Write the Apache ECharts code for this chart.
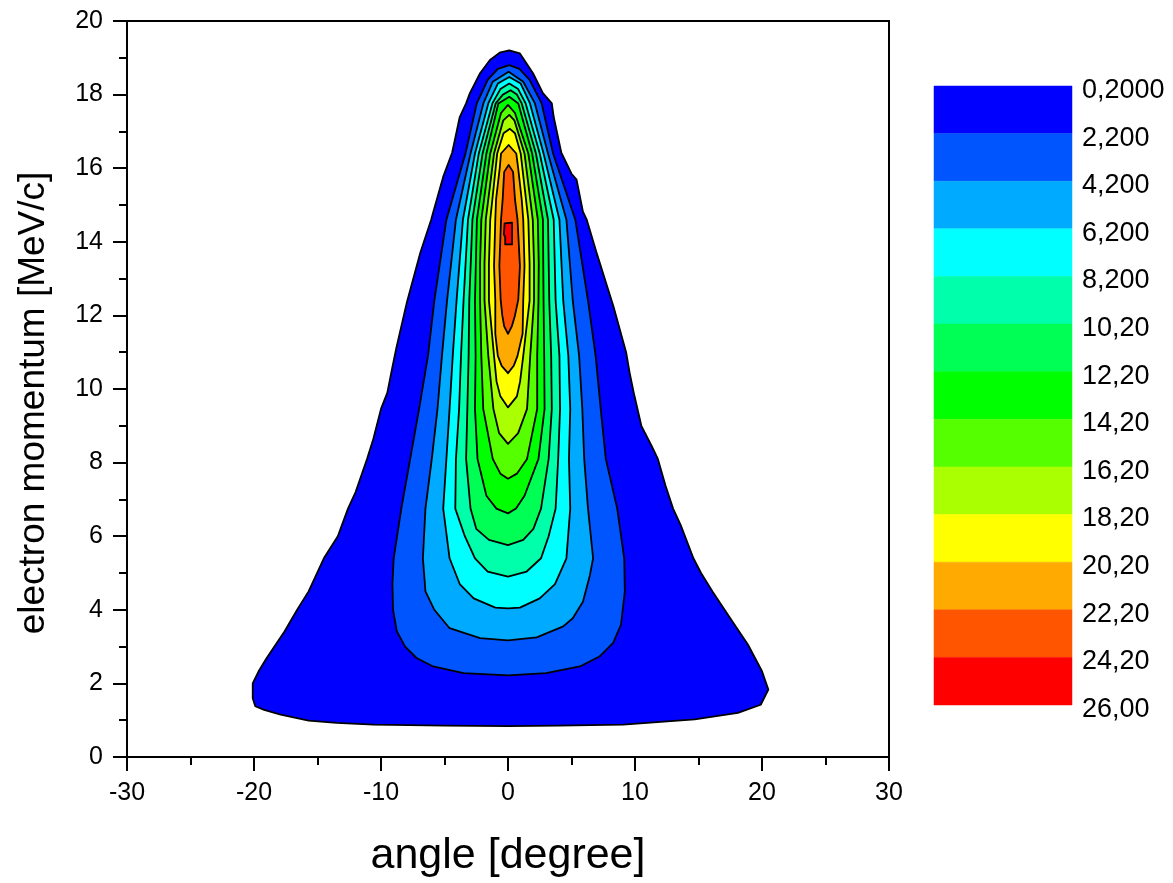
<!DOCTYPE html>
<html>
<head>
<meta charset="utf-8">
<script src="https://cdn.jsdelivr.net/npm/echarts@6/dist/echarts.min.js"></script>
<style>html,body{margin:0;padding:0;background:#fff}#c{width:1173px;height:883px}</style>
</head>
<body>
<div id="c"></div>
<script>
// contour levels (lower bound of each band)
const levels = [0.2, 2.2, 4.2, 6.2, 8.2, 10.2, 12.2, 14.2, 16.2, 18.2, 20.2, 22.2, 24.2];
// colour-scale tick labels
const levelLabels = ['0,2000','2,200','4,200','6,200','8,200','10,20','12,20','14,20','16,20','18,20','20,20','22,20','24,20','26,00'];
const bandColors = ['#0000FF','#0055FF','#00AAFF','#00FFFF','#00FFAA','#00FF55','#00FF00','#55FF00','#AAFF00','#FFFF00','#FFAA00','#FF5500','#FF0000'];
// axis ticks
const xTicks = {min: -30, max: 30, step: 10};
const yTicks = {min: 0, max: 20, step: 2};

// contour boundaries: [angle (deg), momentum (MeV/c)]
const contour_0_2 = [[0.0,0.84],[-5.0,0.85],[-10.6,0.88],[-13.5,0.93],[-15.7,0.99],[-17.9,1.15],[-19.2,1.28],[-19.9,1.38],[-20.1,1.6],[-20.1,2.0],[-19.6,2.35],[-19.0,2.69],[-18.3,3.05],[-17.6,3.41],[-16.6,4.0],[-15.7,4.5],[-14.5,5.4],[-13.4,6.0],[-12.6,6.75],[-12.0,7.2],[-11.1,8.1],[-10.6,8.65],[-10.0,9.46],[-9.5,9.9],[-9.1,10.6],[-8.8,11.1],[-7.96,12.36],[-6.9,13.71],[-6.05,14.6],[-5.9,14.79],[-5.1,15.77],[-4.4,16.42],[-3.8,17.39],[-3.3,17.76],[-3.0,18.04],[-2.2,18.58],[-1.42,18.94],[-0.6,19.15],[0.1,19.2],[0.94,19.12],[1.97,18.58],[2.75,18.04],[3.45,17.76],[3.6,17.39],[4.2,16.42],[5.0,15.85],[5.4,15.69],[5.9,14.82],[6.2,14.6],[6.97,13.71],[8.3,12.25],[9.3,11.0],[9.6,10.4],[9.9,9.9],[10.5,9.0],[11.3,8.46],[11.8,8.1],[12.4,7.38],[13.0,6.75],[13.6,6.3],[14.6,5.4],[15.2,5.0],[16.1,4.5],[17.5,3.77],[18.9,3.05],[20.0,2.33],[20.5,1.83],[19.9,1.42],[18.1,1.2],[14.7,1.02],[9.07,0.88],[4.0,0.85]];
const contour_2_2 = [[0.0,2.22],[-3.5,2.28],[-5.9,2.46],[-7.2,2.69],[-8.1,3.0],[-8.75,3.41],[-9.05,4.0],[-9.1,4.7],[-9.0,5.4],[-8.4,6.75],[-7.7,8.1],[-7.0,9.46],[-6.3,10.9],[-5.8,12.4],[-4.85,14.6],[-3.35,16.4],[-2.46,17.76],[-1.6,18.4],[-0.8,18.7],[0.1,18.8],[0.9,18.7],[1.7,18.4],[2.65,17.76],[3.55,16.4],[5.3,14.6],[6.3,12.4],[6.9,10.9],[7.3,9.46],[7.7,8.1],[8.6,6.75],[9.15,5.4],[9.2,4.5],[8.9,3.6],[8.28,3.1],[7.2,2.73],[5.66,2.46],[3.0,2.28]];
const contour_4_2 = [[0.0,3.17],[-2.2,3.23],[-4.6,3.5],[-5.8,4.0],[-6.5,4.5],[-6.7,5.4],[-6.5,6.75],[-6.0,8.1],[-5.55,9.46],[-5.2,10.9],[-4.8,12.4],[-4.1,14.6],[-2.95,16.4],[-1.94,17.76],[-1.2,18.35],[0.05,18.62],[1.2,18.35],[2.12,17.76],[3.15,16.4],[4.6,14.6],[5.1,12.4],[5.6,10.9],[5.85,9.46],[6.0,8.1],[6.3,6.75],[6.7,5.4],[6.45,4.94],[5.9,4.22],[5.1,3.77],[4.35,3.55],[2.26,3.25]];
const contour_6_2 = [[0.0,4.04],[-1.0,4.06],[-2.7,4.31],[-3.8,4.7],[-4.6,5.4],[-5.1,6.75],[-4.85,8.1],[-4.6,9.46],[-4.35,10.9],[-4.05,12.4],[-3.55,14.6],[-2.6,16.4],[-1.55,17.76],[-0.8,18.3],[0.1,18.48],[1.0,18.3],[1.73,17.76],[2.8,16.4],[4.05,14.6],[4.35,12.4],[4.75,10.9],[4.9,9.46],[4.8,8.1],[4.9,6.75],[4.6,5.4],[3.7,4.7],[2.5,4.31],[0.94,4.06]];
const contour_8_2 = [[0.0,4.9],[-1.6,5.04],[-2.6,5.4],[-3.4,6.0],[-4.15,6.75],[-4.1,8.1],[-3.85,9.46],[-3.7,10.9],[-3.5,12.4],[-3.15,14.6],[-2.3,16.4],[-1.23,17.76],[-0.6,18.15],[0.1,18.3],[0.8,18.15],[1.39,17.76],[2.5,16.4],[3.6,14.6],[3.75,12.4],[4.05,10.9],[4.1,9.46],[3.95,8.1],[3.75,6.75],[3.2,6.0],[2.6,5.4],[1.47,5.04]];
const contour_10_2 = [[0.0,5.76],[-1.5,5.9],[-2.5,6.2],[-2.95,6.75],[-3.3,8.1],[-3.2,9.46],[-3.1,10.9],[-3.05,12.4],[-2.8,14.6],[-2.0,16.4],[-0.97,17.76],[-0.4,18.0],[0.2,18.12],[0.7,18.0],[1.08,17.76],[2.2,16.4],[3.15,14.6],[3.25,12.4],[3.4,10.9],[3.45,9.46],[3.2,8.1],[2.6,6.75],[2.0,6.2],[1.2,5.9]];
const contour_12_2 = [[0.0,6.62],[-0.91,6.75],[-1.7,7.1],[-2.4,8.1],[-2.6,9.46],[-2.55,10.9],[-2.6,12.4],[-2.45,14.6],[-1.7,16.4],[-0.76,17.76],[0.1,17.94],[0.81,17.76],[1.9,16.4],[2.75,14.6],[2.8,12.4],[2.85,10.9],[2.88,9.46],[2.4,8.1],[1.3,7.1],[0.63,6.75]];
const contour_14_2 = [[0.0,7.56],[-0.6,7.7],[-1.2,8.1],[-1.95,9.46],[-2.1,10.9],[-2.2,12.4],[-2.2,13.4],[-2.1,14.6],[-1.4,16.4],[-0.55,17.5],[0.0,17.72],[0.55,17.5],[1.6,16.4],[2.35,14.6],[2.42,13.4],[2.4,12.4],[2.3,10.9],[2.3,9.46],[1.5,8.1],[0.7,7.7]];
const contour_16_2 = [[0.0,8.51],[-0.7,8.8],[-1.15,9.46],[-1.55,10.9],[-1.85,12.4],[-1.85,13.4],[-1.75,14.6],[-1.1,16.4],[-0.37,17.3],[0.1,17.45],[0.5,17.3],[1.3,16.4],[1.95,14.6],[2.05,13.4],[2.05,12.4],[1.75,10.9],[1.5,9.46],[0.8,8.8]];
const contour_18_2 = [[0.0,9.5],[-0.6,9.8],[-0.9,10.2],[-1.1,10.9],[-1.5,12.4],[-1.5,13.4],[-1.4,14.6],[-0.85,16.4],[-0.35,16.95],[0.15,17.07],[0.55,16.95],[1.0,16.4],[1.6,14.6],[1.7,13.4],[1.7,12.4],[1.2,10.9],[0.95,10.2],[0.7,9.8]];
const contour_20_2 = [[0.0,10.43],[-0.5,10.63],[-0.8,10.9],[-1.0,11.5],[-1.0,12.4],[-1.1,13.34],[-1.0,14.6],[-0.94,15.15],[-0.65,16.0],[-0.55,16.4],[0.05,16.63],[0.65,16.4],[0.8,16.0],[1.08,15.15],[1.2,14.6],[1.3,13.34],[1.2,12.4],[1.15,11.5],[0.75,10.9],[0.45,10.63]];
const contour_22_2 = [[0.0,11.5],[-0.3,11.7],[-0.45,12.0],[-0.58,12.43],[-0.68,13.34],[-0.55,14.6],[-0.42,15.15],[-0.3,15.9],[0.05,16.09],[0.4,15.9],[0.55,15.15],[0.75,14.6],[0.94,13.34],[0.81,12.43],[0.55,12.0],[0.3,11.7]];
const contour_24_2 = [[-0.27,14.5],[0.32,14.52],[0.32,13.93],[-0.22,13.93],[-0.22,14.12],[-0.32,14.2]];

const contours = [contour_0_2, contour_2_2, contour_4_2, contour_6_2, contour_8_2, contour_10_2, contour_12_2,
                  contour_14_2, contour_16_2, contour_18_2, contour_20_2, contour_22_2, contour_24_2];

const FONT = '"Liberation Sans", Arial, Helvetica, sans-serif';
const chart = echarts.init(document.getElementById('c'), null, {renderer: 'canvas'});

const blackLine = {color: '#000', width: 2};

const option = {
  animation: false,
  backgroundColor: '#fff',
  grid: [
    {left: 127, top: 21, width: 762, height: 738, show: true, borderColor: '#000', borderWidth: 2, backgroundColor: 'rgba(0,0,0,0)'},
    {left: 934, top: 86, width: 138, height: 619},
    // label track of the colour scale (labels sit slightly below the band edges)
    {left: 934, top: 90.5, width: 138, height: 619}
  ],
  xAxis: [
    {
      gridIndex: 0, type: 'value', min: xTicks.min, max: xTicks.max, interval: xTicks.step,
      axisLine: {show: true, onZero: false, lineStyle: blackLine},
      axisTick: {show: true, length: 14, lineStyle: blackLine},
      minorTick: {show: true, splitNumber: 2, length: 8, lineStyle: blackLine},
      splitLine: {show: false},
      axisLabel: {fontSize: 25, color: '#000', fontFamily: FONT, margin: 24},
      name: 'angle [degree]', nameLocation: 'middle', nameGap: 78,
      nameTextStyle: {fontSize: 43, color: '#000', fontFamily: FONT}
    },
    {gridIndex: 1, type: 'value', min: 0, max: 1, show: false},
    {gridIndex: 2, type: 'value', min: 0, max: 1, show: false}
  ],
  yAxis: [
    {
      gridIndex: 0, type: 'value', min: yTicks.min, max: yTicks.max, interval: yTicks.step,
      axisLine: {show: true, onZero: false, lineStyle: blackLine},
      axisTick: {show: true, length: 14, lineStyle: blackLine},
      minorTick: {show: true, splitNumber: 2, length: 8, lineStyle: blackLine},
      splitLine: {show: false},
      axisLabel: {fontSize: 25, color: '#000', fontFamily: FONT, margin: 24},
      name: 'electron momentum [MeV/c]', nameLocation: 'middle', nameGap: 75,
      nameTextStyle: {fontSize: 37, color: '#000', fontFamily: FONT, padding: [0, 28, 0, 0]}
    },
    {
      gridIndex: 1, type: 'value', min: 0, max: levelLabels.length - 1, interval: 1, inverse: true,
      show: false
    },
    {
      gridIndex: 2, type: 'value', min: 0, max: levelLabels.length - 1, interval: 1, inverse: true, position: 'right',
      axisLine: {show: false}, axisTick: {show: false}, splitLine: {show: false},
      axisLabel: {
        formatter: v => levelLabels[v], margin: 10, fontSize: 27, color: '#000', fontFamily: FONT
      }
    }
  ],
  series: [
    {
      type: 'custom', xAxisIndex: 0, yAxisIndex: 0,
      data: contours.map(c => c[0]),
      encode: {x: 0, y: 1},
      renderItem: function (params, api) {
        const poly = contours[params.dataIndex];
        const pts = poly.map(p => api.coord([p[0], p[1]]));
        return {
          type: 'polygon',
          shape: {points: pts},
          style: {fill: bandColors[params.dataIndex], stroke: '#000', lineWidth: 1.8, lineJoin: 'round'}
        };
      }
    },
    {
      type: 'custom', xAxisIndex: 1, yAxisIndex: 1,
      data: bandColors.map((c, i) => [0, i]),
      encode: {x: 0, y: 1},
      renderItem: function (params, api) {
        const i = params.dataIndex;
        const p0 = api.coord([0, i]);
        const p1 = api.coord([1, i + 1]);
        return {
          type: 'rect',
          shape: {x: p0[0], y: Math.min(p0[1], p1[1]), width: p1[0] - p0[0], height: Math.abs(p1[1] - p0[1])},
          style: {fill: bandColors[i], stroke: bandColors[i], lineWidth: 0.5}
        };
      }
    },
    {
      type: 'custom', xAxisIndex: 2, yAxisIndex: 2,
      data: [],
      renderItem: function () { return null; }
    }
  ]
};
chart.setOption(option);
</script>
</body>
</html>
